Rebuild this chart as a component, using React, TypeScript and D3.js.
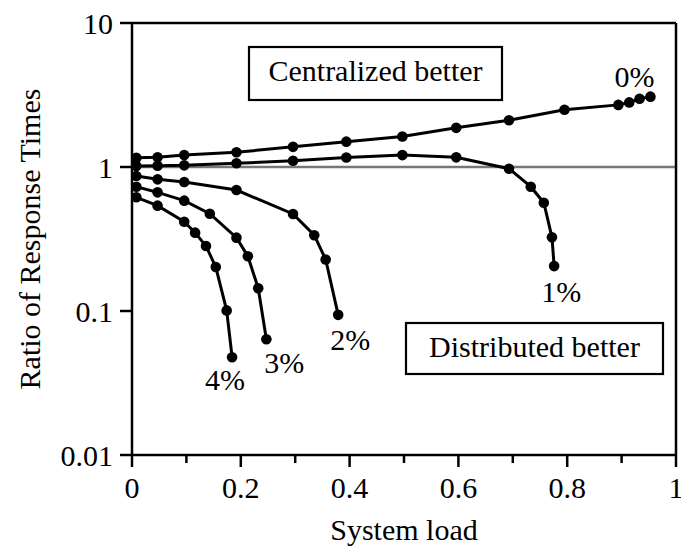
import React from "react";
import * as d3 from "d3";

const seriesNames = ["0%", "1%", "2%", "3%", "4%"];
const load0 = [0.008, 0.047, 0.096, 0.192, 0.296, 0.394, 0.497, 0.596, 0.693, 0.795, 0.894, 0.914, 0.933, 0.953];
const ratio0 = [1.16, 1.17, 1.21, 1.265, 1.38, 1.5, 1.63, 1.87, 2.11, 2.5, 2.7, 2.81, 2.98, 3.08];
const load1 = [0.008, 0.047, 0.096, 0.192, 0.296, 0.394, 0.497, 0.596, 0.693, 0.733, 0.757, 0.772, 0.776];
const ratio1 = [1.016, 1.02, 1.027, 1.061, 1.106, 1.164, 1.21, 1.167, 0.973, 0.73, 0.565, 0.325, 0.205];
const load2 = [0.008, 0.047, 0.096, 0.192, 0.296, 0.335, 0.356, 0.379];
const ratio2 = [0.866, 0.821, 0.787, 0.692, 0.472, 0.336, 0.228, 0.094];
const load3 = [0.008, 0.047, 0.096, 0.143, 0.192, 0.213, 0.232, 0.247];
const ratio3 = [0.73, 0.667, 0.584, 0.474, 0.323, 0.24, 0.144, 0.0637];
const load4 = [0.008, 0.047, 0.096, 0.116, 0.136, 0.154, 0.174, 0.184];
const ratio4 = [0.616, 0.539, 0.417, 0.35, 0.283, 0.202, 0.101, 0.0477];

const xTicks = [0, 0.2, 0.4, 0.6, 0.8, 1];
const xMinorTicks = [0.1, 0.3, 0.5, 0.7, 0.9];
const xTickLabels = ["0", "0.2", "0.4", "0.6", "0.8", "1"];
const yTicks = [0.01, 0.1, 1, 10];
const yTickLabels = ["0.01", "0.1", "1", "10"];

const W = 681;
const H = 548;
const FONT = '"Liberation Serif", "Times New Roman", Times, "DejaVu Serif", serif';
const ts: React.CSSProperties = { fontFamily: FONT, fontSize: 30 };

export default function App() {
  const x = d3.scaleLinear().domain([0, 1]).range([132, 676]);
  const y = d3.scaleLog().domain([0.01, 10]).range([455, 23]);
  const loads = [load0, load1, load2, load3, load4];
  const ratios = [ratio0, ratio1, ratio2, ratio3, ratio4];
  const line = d3
    .line<[number, number]>()
    .x((d) => x(d[0]))
    .y((d) => y(d[1]));
  const labelOff: [number, number][] = [
    [-16, -10],
    [7, 36],
    [12, 35],
    [18, 34],
    [-7, 33],
  ];
  const [x0, x1] = x.range();
  const [yb, yt] = y.range();

  return (
    <svg
      width={W}
      height={H}
      style={{ position: "absolute", left: 0, top: 0, background: "#fff", fontFamily: FONT }}
    >
      <rect x={0} y={0} width={W} height={H} fill="#fff" />
      <line x1={x0} x2={x1} y1={y(1)} y2={y(1)} stroke="#777" strokeWidth={2.5} />
      {loads.map((ls, i) => {
        const pts: [number, number][] = ls.map((l, j) => [l, ratios[i][j]]);
        return (
          <g key={i}>
            <path d={line(pts) || ""} fill="none" stroke="#000" strokeWidth={3} />
            {pts.map((p, j) => (
              <circle key={j} cx={x(p[0])} cy={y(p[1])} r={5.3} fill="#000" />
            ))}
          </g>
        );
      })}
      {loads.map((ls, i) => {
        const last = ls.length - 1;
        return (
          <text
            key={i}
            x={x(ls[last]) + labelOff[i][0]}
            y={y(ratios[i][last]) + labelOff[i][1]}
            textAnchor="middle"
            style={ts}
          >
            {seriesNames[i]}
          </text>
        );
      })}
      <line x1={x0} x2={x1} y1={yt} y2={yt} stroke="#000" strokeWidth={2.5} />
      <line x1={x1} x2={x1} y1={yt} y2={yb} stroke="#000" strokeWidth={2.5} />
      <line x1={x0} x2={x0} y1={yt - 1} y2={yb + 1} stroke="#000" strokeWidth={2.5} />
      <line x1={x0 - 1} x2={x1 + 1} y1={yb} y2={yb} stroke="#000" strokeWidth={2.5} />
      {xTicks.map((t, i) => (
        <g key={"xt" + i}>
          <line x1={x(t)} x2={x(t)} y1={yb} y2={yb + 12} stroke="#000" strokeWidth={2.5} />
          <text x={x(t)} y={yb + 43} textAnchor="middle" style={ts}>
            {xTickLabels[i]}
          </text>
        </g>
      ))}
      {xMinorTicks.map((t, i) => (
        <line key={"xm" + i} x1={x(t)} x2={x(t)} y1={yb} y2={yb + 8} stroke="#000" strokeWidth={2.5} />
      ))}
      {yTicks.map((t, i) => (
        <g key={"yt" + i}>
          <line x1={x0 - 12} x2={x0} y1={y(t)} y2={y(t)} stroke="#000" strokeWidth={2.5} />
          <text x={x0 - 19} y={y(t)} dy="0.35em" textAnchor="end" style={ts}>
            {yTickLabels[i]}
          </text>
        </g>
      ))}
      <text x={(x0 + x1) / 2} y={540} textAnchor="middle" style={ts}>
        System load
      </text>
      <text
        transform={`translate(40, ${(yb + yt) / 2}) rotate(-90)`}
        textAnchor="middle"
        style={ts}
      >
        Ratio of Response Times
      </text>
      <rect x={249} y={47} width={253} height={53} fill="#fff" stroke="#000" strokeWidth={2.2} />
      <text x={375.5} y={81} textAnchor="middle" style={ts}>
        Centralized better
      </text>
      <rect x={406} y={323} width={257} height={51} fill="#fff" stroke="#000" strokeWidth={2.2} />
      <text x={534.5} y={357} textAnchor="middle" style={ts}>
        Distributed better
      </text>
    </svg>
  );
}
